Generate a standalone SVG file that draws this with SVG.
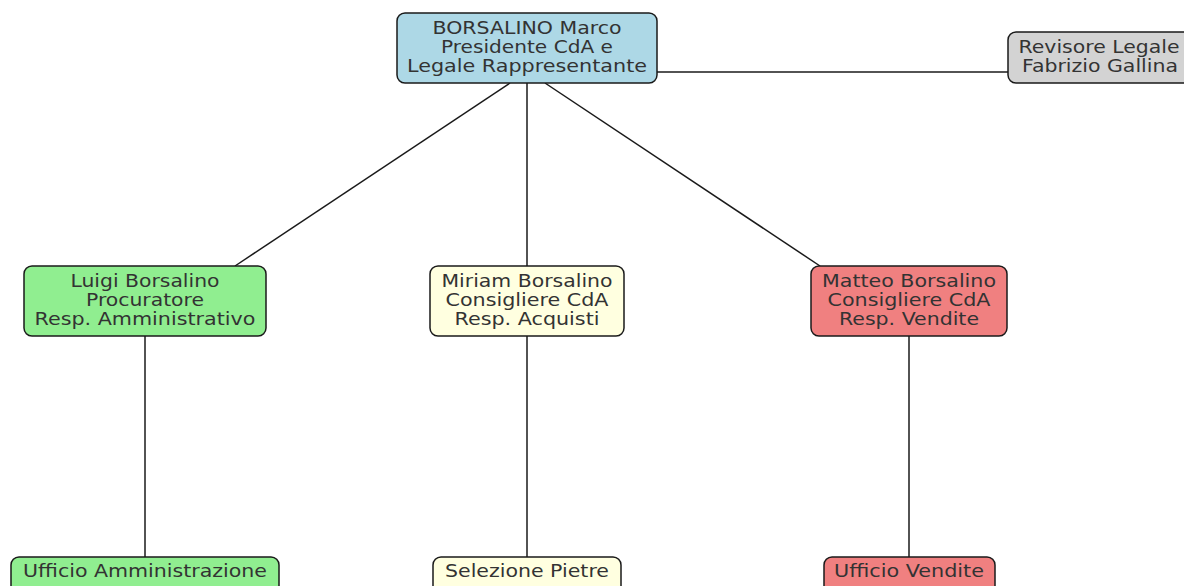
<svg xmlns="http://www.w3.org/2000/svg" width="1184" height="586" viewBox="0 0 1184 586">
<style>
.n rect{stroke:#1a1a1a;stroke-width:1.5}
.n text{font-family:"DejaVu Sans",sans-serif;font-size:17.5px;fill:#333;text-anchor:middle;dominant-baseline:central}
.e line{stroke:#1a1a1a;stroke-width:1.5}
</style>
<rect width="1184" height="586" fill="#fff"/>
<g class="e">
<line x1="657" y1="72" x2="1008" y2="72"/>
<line x1="510" y1="83" x2="235" y2="266"/>
<line x1="527" y1="83" x2="527" y2="266"/>
<line x1="545" y1="83" x2="820" y2="266"/>
<line x1="145" y1="336" x2="145" y2="557"/>
<line x1="527" y1="336" x2="527" y2="557"/>
<line x1="909" y1="336" x2="909" y2="557"/>
</g>
<g id="marco" class="n"><rect x="397" y="13" width="260" height="70" rx="8" fill="#add8e6"/>
<text x="527" y="28" textLength="189" lengthAdjust="spacingAndGlyphs">BORSALINO Marco</text><text x="527" y="47" textLength="172" lengthAdjust="spacingAndGlyphs">Presidente CdA e</text><text x="527" y="66" textLength="240" lengthAdjust="spacingAndGlyphs">Legale Rappresentante</text></g>
<g id="revisore" class="n"><rect x="1008" y="32" width="185" height="51" rx="8" fill="#d3d3d3"/>
<text x="1099" y="47" textLength="161" lengthAdjust="spacingAndGlyphs">Revisore Legale</text><text x="1100" y="66" textLength="156" lengthAdjust="spacingAndGlyphs">Fabrizio Gallina</text></g>
<g id="luigi" class="n"><rect x="24" y="266" width="242" height="70" rx="8" fill="#90ee90"/>
<text x="145" y="281" textLength="149" lengthAdjust="spacingAndGlyphs">Luigi Borsalino</text><text x="145" y="300" textLength="118" lengthAdjust="spacingAndGlyphs">Procuratore</text><text x="145" y="319" textLength="221" lengthAdjust="spacingAndGlyphs">Resp. Amministrativo</text></g>
<g id="miriam" class="n"><rect x="430" y="266" width="194" height="70" rx="8" fill="#ffffe0"/>
<text x="527" y="281" textLength="171" lengthAdjust="spacingAndGlyphs">Miriam Borsalino</text><text x="527" y="300" textLength="163" lengthAdjust="spacingAndGlyphs">Consigliere CdA</text><text x="527" y="319" textLength="145" lengthAdjust="spacingAndGlyphs">Resp. Acquisti</text></g>
<g id="matteo" class="n"><rect x="811" y="266" width="196" height="70" rx="8" fill="#f08080"/>
<text x="909" y="281" textLength="174" lengthAdjust="spacingAndGlyphs">Matteo Borsalino</text><text x="909" y="300" textLength="163" lengthAdjust="spacingAndGlyphs">Consigliere CdA</text><text x="909" y="319" textLength="140" lengthAdjust="spacingAndGlyphs">Resp. Vendite</text></g>
<g id="uff_amm" class="n"><rect x="11" y="557" width="268" height="38" rx="8" fill="#90ee90"/>
<text x="145" y="571" textLength="244" lengthAdjust="spacingAndGlyphs">Ufficio Amministrazione</text></g>
<g id="selezione" class="n"><rect x="433" y="557" width="188" height="38" rx="8" fill="#ffffe0"/>
<text x="527" y="571" textLength="164" lengthAdjust="spacingAndGlyphs">Selezione Pietre</text></g>
<g id="uff_vend" class="n"><rect x="824" y="557" width="171" height="38" rx="8" fill="#f08080"/>
<text x="909" y="571" textLength="150" lengthAdjust="spacingAndGlyphs">Ufficio Vendite</text></g>
</svg>
